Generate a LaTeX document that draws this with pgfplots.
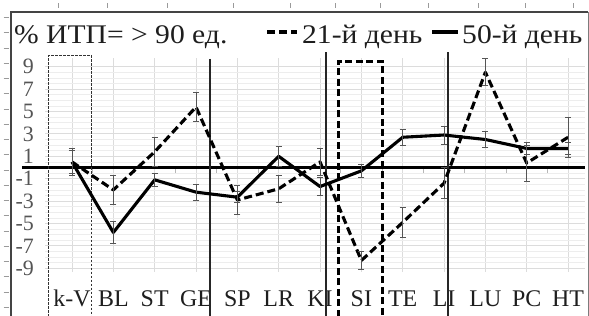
\documentclass[border=0pt]{standalone}
\usepackage{pgfplots}
\pgfplotsset{compat=1.18}
\usepackage{pgfplotstable}
\usepackage{fontspec}
\setmainfont{Liberation Serif}
\definecolor{txt}{HTML}{1E1E1E}
\definecolor{ylab}{HTML}{555555}
\definecolor{framec}{HTML}{444444}
\definecolor{errc}{HTML}{555555}
\definecolor{gmaj}{HTML}{DCDCDC}
\definecolor{gmin}{HTML}{EDEDED}
\definecolor{deco}{HTML}{9A9A9A}

\pgfplotstableread{
x y e
0 0.5 1.2
1 -2.0 1.3
2 1.4 1.3
3 5.4 1.3
4 -2.9 1.3
5 -1.9 1.2
6 0.5 1.2
7 -8.3 0.8
8 -4.9 1.3
9 -1.4 1.4
10 8.5 1.2
11 0.4 1.6
12 2.7 1.8
}\dayA

\pgfplotstableread{
x y e
0 0.5 1.0
1 -5.8 1.0
2 -1.1 0.6
3 -2.2 0.7
4 -2.65 0.5
5 1.0 0.9
6 -1.7 0.8
7 -0.3 0.6
8 2.7 0.7
9 2.9 0.8
10 2.5 0.7
11 1.7 0.5
12 1.7 0.5
}\dayB

\newcommand{\legtext}[1]{\scalebox{1.1}[1.0]{#1}}

\begin{document}
\begin{tikzpicture}[x=1bp,y=1bp]
\useasboundingbox (0,0) rectangle (589,315);
\fill[white] (0,0) rectangle (589,315);
% outer frame
\draw[line width=2bp, color=framec] (11,-2) -- (11,303) -- (588,303);
\draw[line width=1bp, color=framec!70] (588,303) -- (588,-2);
% decorative sheet ticks
\foreach \yy in {298,283,267,252,237,222,206,191,176,161,145,130,115,100,84,69,54,39,23,8}
  \draw[deco, line width=0.8bp] (3.5,\yy) -- (8.5,\yy);
\foreach \xx in {58,107,167,233,290,335,380,428,478,525,573}
  \draw[deco, line width=0.8bp] (\xx,307) -- (\xx,312);

\begin{axis}[
  at={(45bp,43.3bp)}, anchor=south west,
  scale only axis, width=540bp, height=214bp,
  xmin=-0.653, xmax=12.41, ymin=-9.3, ymax=9.8,
  clip=false,
  axis line style={draw=none},
  major tick length=0pt, minor tick length=0pt,
  xtick={0,...,12},
  xticklabels={k-V,BL,ST,GE,SP,LR,KI,SI,TE,LI,LU,PC,HT},
  ytick={-9,-7,-5,-3,-1,1,3,5,7,9},
  yticklabels={-9,-7,-5,-3,-1,1,3,5,7,9},
  minor y tick num=3,
  xmajorgrids, ymajorgrids, yminorgrids,
  major grid style={color=gmaj, line width=0.9bp},
  minor grid style={color=gmin, line width=0.7bp},
  xticklabel style={font=\fontsize{24}{24}\selectfont, text=txt, anchor=base, yshift=-35bp, inner sep=0pt},
  yticklabel style={font=\fontsize{22}{22}\selectfont, text=ylab, anchor=east, inner sep=0pt, xshift=-11bp},
]
% category boundary ticks on zero line
\pgfplotsinvokeforeach{0.5,1.5,2.5,3.5,4.5,5.5,6.5,7.5,8.5,9.5,10.5,11.5}{
  \draw[color=gmaj!60!gray, line width=0.9bp] (axis cs:#1,0) -- (axis cs:#1,-0.45);
}
% zero line
\draw[line width=3bp, black] (axis cs:-1.21,0) -- (axis cs:12.41,0);
% vertical separators
\draw[line width=1.5bp, black!85] (axis cs:3.34,9.69) -- (axis cs:3.34,-13.3);
\draw[line width=1.5bp, black!85] (axis cs:6.15,10.3) -- (axis cs:6.15,-13.3);
\draw[line width=1.5bp, black!85] (axis cs:9.10,10.3) -- (axis cs:9.10,-13.3);
% dotted rectangle
\draw[line width=1bp, black!80, dash pattern=on 2.5bp off 1.5bp] (axis cs:-0.58,-13.3) -- (axis cs:-0.58,9.96) -- (axis cs:0.48,9.96) -- (axis cs:0.48,-13.3);
% thick dashed rectangle
\draw[line width=3bp, black, dash pattern=on 7bp off 3.5bp] (axis cs:6.44,-13.3) -- (axis cs:6.44,9.5) -- (axis cs:7.50,9.5) -- (axis cs:7.50,-13.3);

\addplot[black, line width=3.1bp, dash pattern=on 8bp off 4bp, line join=round,
  error bars/.cd, y dir=both, y explicit,
  error bar style={solid, line width=0.9bp, color=errc},
  error mark options={solid, rotate=90, mark size=3bp, line width=0.9bp, color=errc}]
  table[x=x, y=y, y error=e] {\dayA};
\addplot[black, line width=3.1bp, line join=round,
  error bars/.cd, y dir=both, y explicit,
  error bar style={solid, line width=0.9bp, color=errc},
  error mark options={solid, rotate=90, mark size=3bp, line width=0.9bp, color=errc}]
  table[x=x, y=y, y error=e] {\dayB};
\end{axis}

% legend / title
\node[anchor=base west, inner sep=0pt, font=\fontsize{27}{27}\selectfont, text=txt] at (14,272) {\legtext{\% ИТП= > 90 ед.}};
\draw[line width=3.1bp, black, dash pattern=on 8bp off 4bp] (267,283) -- (297,283);
\node[anchor=base west, inner sep=0pt, font=\fontsize{27}{27}\selectfont, text=txt] at (302,272) {\legtext{21-й день}};
\draw[line width=3.1bp, black] (432,283) -- (458,283);
\node[anchor=base west, inner sep=0pt, font=\fontsize{27}{27}\selectfont, text=txt] at (462,272) {\legtext{50-й день}};
\end{tikzpicture}
\end{document}
